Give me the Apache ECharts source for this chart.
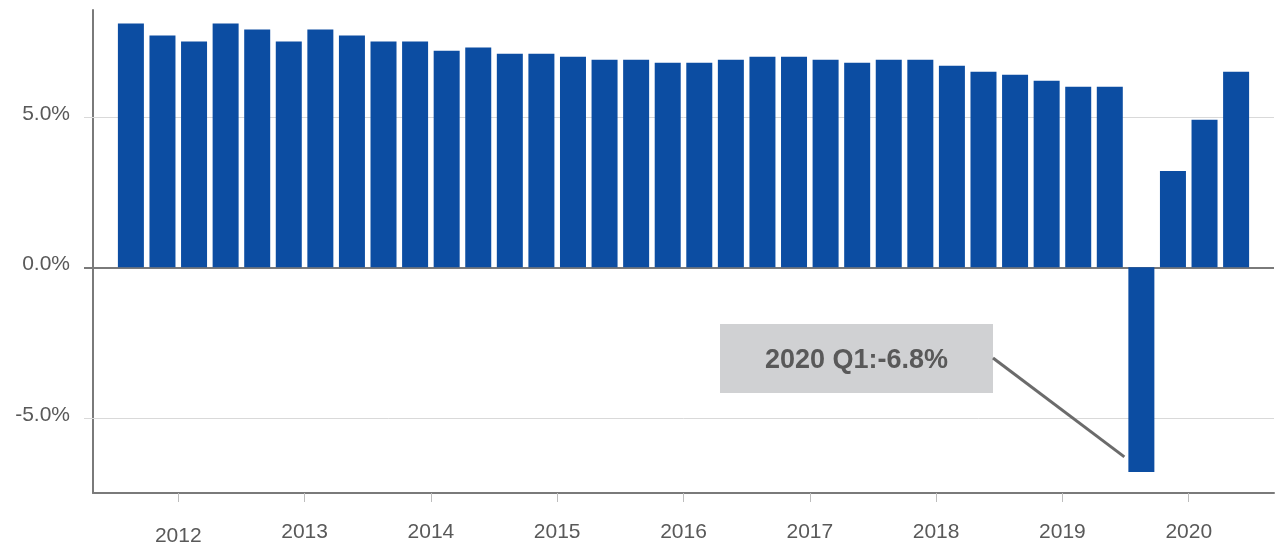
<!DOCTYPE html>
<html>
<head>
<meta charset="utf-8">
<script src="https://cdn.jsdelivr.net/npm/echarts@6/dist/echarts.min.js"></script>
<style>
  html, body { margin: 0; padding: 0; background: #fff; }
  #chart { width: 1276px; height: 546px; }
</style>
</head>
<body>
<div id="chart"></div>
<script>
// Quarterly real GDP growth, year on year (%)
const years = ['2012', '2013', '2014', '2015', '2016', '2017', '2018', '2019', '2020'];
const quarterNames = ['Q1', 'Q2', 'Q3', 'Q4'];
const growth = [
  8.1, 7.7, 7.5, 8.1,   // 2012
  7.9, 7.5, 7.9, 7.7,   // 2013
  7.5, 7.5, 7.2, 7.3,   // 2014
  7.1, 7.1, 7.0, 6.9,   // 2015
  6.9, 6.8, 6.8, 6.9,   // 2016
  7.0, 7.0, 6.9, 6.8,   // 2017
  6.9, 6.9, 6.7, 6.5,   // 2018
  6.4, 6.2, 6.0, 6.0,   // 2019
  -6.8, 3.2, 4.9, 6.5   // 2020
];
const yTickValues = [-5, 0, 5];

const quarters = [];
years.forEach(y => quarterNames.forEach(q => quarters.push(y + ' ' + q)));

// each year's label sits in the middle of its four quarters
const yearPositions = years.map((y, i) => i * 4 + 1.5);

const FONT = '"Liberation Sans", Arial, Helvetica, sans-serif';
const TEXT = '#595959';
const AXIS = '#7a7a7a';

const chart = echarts.init(document.getElementById('chart'), null, { renderer: 'canvas' });

chart.setOption({
  animation: false,
  backgroundColor: '#ffffff',
  textStyle: { fontFamily: FONT },
  grid: { left: 93, right: 2, top: 10, bottom: 53, containLabel: false, outerBoundsMode: 'none' },
  xAxis: {
    type: 'value',
    min: -1.2,
    max: quarters.length + 0.2,
    position: 'bottom',
    axisLine: { onZero: false, lineStyle: { color: AXIS, width: 2 } },
    axisTick: {
      customValues: yearPositions,
      length: 9,
      lineStyle: { color: '#bdbdbd', width: 1 }
    },
    axisLabel: {
      customValues: yearPositions,
      margin: 29,
      fontSize: 21,
      fontFamily: FONT,
      color: TEXT,
      formatter: v => {
        const idx = Math.round((v - 1.5) / 4);
        return idx === 0 ? '{low|' + years[idx] + '}' : years[idx];
      },
      rich: {
        low: { fontSize: 21, fontFamily: FONT, color: TEXT, padding: [4, 0, 0, 0] }
      }
    },
    splitLine: { show: false }
  },
  yAxis: [
    {
      type: 'value',
      min: -7.5,
      max: 8.55,
      axisLine: { show: true, onZero: false, lineStyle: { color: AXIS, width: 2 } },
      axisTick: {
        show: true,
        customValues: [-5, 5],
        length: 9,
        lineStyle: { color: '#d9d9d9', width: 1 }
      },
      axisLabel: {
        customValues: yTickValues,
        margin: 23,
        fontSize: 21,
        fontFamily: FONT,
        color: TEXT,
        formatter: v => '{v|' + v.toFixed(1) + '%}',
        rich: {
          v: { fontSize: 21, fontFamily: FONT, color: TEXT, padding: [0, 0, 6, 0] }
        }
      },
      splitLine: { show: false }
    },
    {
      // darker tick marking the zero line
      type: 'value',
      min: -7.5,
      max: 8.55,
      position: 'left',
      axisLine: { show: false, onZero: false },
      axisTick: {
        show: true,
        customValues: [0],
        length: 9,
        lineStyle: { color: AXIS, width: 2 }
      },
      axisLabel: { show: false },
      splitLine: { show: false }
    }
  ],
  series: [
    {
      type: 'bar',
      xAxisIndex: 0,
      yAxisIndex: 0,
      barWidth: 26,
      itemStyle: { color: '#0c4da2' },
      data: growth.map((v, i) => [i, v]),
      markLine: {
        silent: true,
        z: 1,
        symbol: 'none',
        label: { show: false },
        data: [
          { yAxis: 5, lineStyle: { color: '#d9d9d9', width: 1, type: 'solid' } },
          { yAxis: -5, lineStyle: { color: '#d9d9d9', width: 1, type: 'solid' } },
          { yAxis: 0, lineStyle: { color: AXIS, width: 2, type: 'solid' } }
        ]
      }
    }
  ]
});

// Callout for the sharpest quarter
const lowIdx = growth.indexOf(Math.min(...growth));
const lowText = quarters[lowIdx] + ':' + growth[lowIdx].toFixed(1) + '%';
const tip = chart.convertToPixel({ gridIndex: 0 }, [lowIdx, -6.3]);
const box = { x: 720, y: 324, w: 273, h: 69 };

chart.setOption({
  graphic: [
    {
      type: 'rect',
      shape: { x: box.x, y: box.y, width: box.w, height: box.h },
      style: { fill: '#d0d1d3' },
      z: 10
    },
    {
      type: 'text',
      x: box.x + box.w / 2,
      y: box.y + box.h / 2 + 2,
      style: {
        text: lowText,
        fill: TEXT,
        font: 'bold 27px ' + FONT,
        textAlign: 'center',
        textVerticalAlign: 'middle'
      },
      z: 11
    },
    {
      type: 'line',
      shape: { x1: box.x + box.w, y1: box.y + 34, x2: tip[0] - 17, y2: tip[1] },
      style: { stroke: '#6b6b6b', lineWidth: 3 },
      z: 10
    }
  ]
});
</script>
</body>
</html>
